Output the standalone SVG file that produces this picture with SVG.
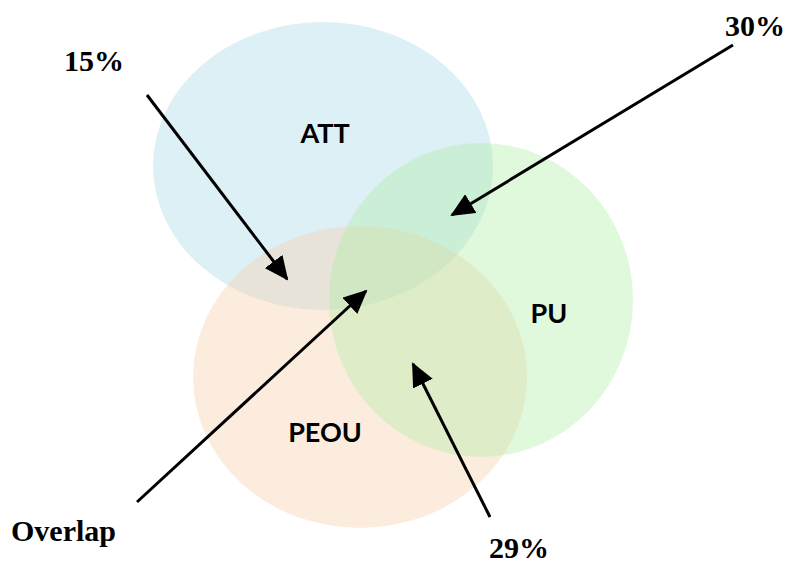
<svg xmlns="http://www.w3.org/2000/svg" width="791" height="564" viewBox="0 0 791 564">
<style>
.c{fill-opacity:0.4;stroke:none}
.lbl{font-family:Lato,"Open Sans",sans-serif;font-weight:bold;font-size:27px;fill:#000;text-anchor:middle}
.pct{font-family:"Liberation Serif","Times New Roman",serif;font-weight:bold;font-size:30px;fill:#000}
.arr{stroke:#000;stroke-width:3;fill:none;marker-end:url(#ah)}
</style>
<defs>
<marker id="ah" markerUnits="userSpaceOnUse" markerWidth="24" markerHeight="22" viewBox="0 0 24 22" refX="22" refY="11" orient="auto">
<path d="M0,0 L24,11 L0,22 Z" fill="#000"/>
</marker>
</defs>
<rect width="791" height="564" fill="#fff"/>
<g id="att"><ellipse class="c" cx="323" cy="166" rx="170" ry="144" fill="#A8DAE6"/></g>
<g id="peou"><ellipse class="c" cx="360" cy="377" rx="167" ry="151" fill="#F7CFAC"/></g>
<g id="pu"><ellipse class="c" cx="481" cy="300" rx="152" ry="157" fill="#B1EDA7"/></g>
<g id="labels">
<text class="lbl" x="325" y="143">ATT</text>
<text class="lbl" x="549" y="323">PU</text>
<text class="lbl" x="325" y="442">PEOU</text>
</g>
<g id="connectors">
<line class="arr" x1="147" y1="95" x2="287" y2="279"/>
<line class="arr" x1="733" y1="45" x2="452" y2="215"/>
<line class="arr" x1="137" y1="502" x2="366" y2="291"/>
<line class="arr" x1="490" y1="517" x2="413" y2="364"/>
</g>
<g id="pcts">
<text class="pct" x="64" y="71">15%</text>
<text class="pct" x="725" y="36">30%</text>
<text class="pct" x="11" y="541">Overlap</text>
<text class="pct" x="489" y="558">29%</text>
</g>
</svg>
